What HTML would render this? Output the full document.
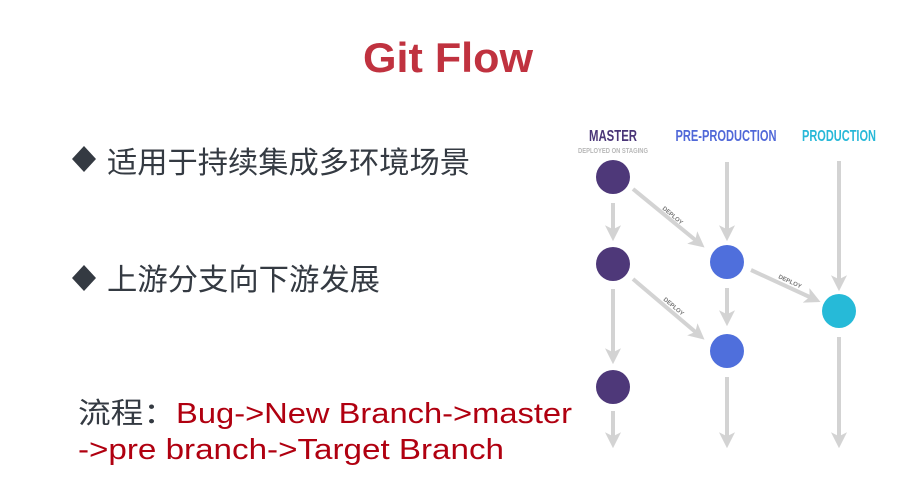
<!DOCTYPE html>
<html><head><meta charset="utf-8"><style>
html,body{margin:0;padding:0;background:#fff;width:921px;height:496px;overflow:hidden}
svg{display:block}
</style></head><body>
<svg width="921" height="496" viewBox="0 0 921 496" xmlns="http://www.w3.org/2000/svg">
<defs>
<marker id="ah" markerWidth="4" markerHeight="4" refX="2.2" refY="2" orient="auto" markerUnits="strokeWidth">
<path d="M0,0 L4,2 L0,4 L1,2 Z" fill="#d3d3d3"/>
</marker>
</defs>
<text x="448" y="72" text-anchor="middle" font-family="Liberation Sans, sans-serif" font-weight="bold" font-size="42" fill="#c0323f" textLength="170" lengthAdjust="spacingAndGlyphs">Git Flow</text>

<path d="M84,146 L96,159 L84,172 L72,159 Z" fill="#343a42"/>
<text x="107" y="173" font-family="Liberation Sans, Noto Sans CJK SC, sans-serif" font-size="30" fill="#343a42" textLength="363" lengthAdjust="spacingAndGlyphs">适用于持续集成多环境场景</text>
<path d="M84,265 L96,278 L84,291 L72,278 Z" fill="#343a42"/>
<text x="107" y="290" font-family="Liberation Sans, Noto Sans CJK SC, sans-serif" font-size="30" fill="#343a42" textLength="273" lengthAdjust="spacingAndGlyphs">上游分支向下游发展</text>

<text x="78" y="423" font-family="Liberation Sans, Noto Sans CJK SC, sans-serif" font-size="29" textLength="494" lengthAdjust="spacingAndGlyphs"><tspan fill="#343a42">流程：</tspan><tspan fill="#b00010">Bug-&gt;New Branch-&gt;master</tspan></text>
<text x="78" y="459" font-family="Liberation Sans, Noto Sans CJK SC, sans-serif" font-size="29" fill="#b00010" textLength="426" lengthAdjust="spacingAndGlyphs">-&gt;pre branch-&gt;Target Branch</text>

<g font-family="Liberation Sans, sans-serif" font-weight="bold" text-anchor="middle">
<text x="613" y="141" font-size="16" fill="#4a3578" textLength="48" lengthAdjust="spacingAndGlyphs">MASTER</text>
<text x="613" y="153" font-size="7" fill="#b8b8b8" textLength="70" lengthAdjust="spacingAndGlyphs">DEPLOYED ON STAGING</text>
<text x="726" y="141" font-size="16" fill="#5068d8" textLength="101" lengthAdjust="spacingAndGlyphs">PRE-PRODUCTION</text>
<text x="839" y="141" font-size="16" fill="#27b8d8" textLength="74" lengthAdjust="spacingAndGlyphs">PRODUCTION</text>
</g>

<g stroke="#d3d3d3" stroke-width="4" fill="none" marker-end="url(#ah)">
<line x1="613" y1="203" x2="613" y2="234"/>
<line x1="613" y1="289" x2="613" y2="357"/>
<line x1="613" y1="411" x2="613" y2="441"/>
<line x1="727" y1="162" x2="727" y2="234"/>
<line x1="727" y1="288" x2="727" y2="319"/>
<line x1="727" y1="377" x2="727" y2="441"/>
<line x1="839" y1="161" x2="839" y2="284"/>
<line x1="839" y1="337" x2="839" y2="441"/>
<line x1="633" y1="189" x2="699" y2="243"/>
<line x1="633" y1="279" x2="699" y2="335"/>
<line x1="751" y1="270" x2="814" y2="299"/>
</g>

<g font-family="Liberation Sans, sans-serif" font-weight="bold" font-size="6" fill="#777">
<text x="662" y="209" transform="rotate(40 662 209)">DEPLOY</text>
<text x="663" y="300" transform="rotate(40 663 300)">DEPLOY</text>
<text x="778" y="278" transform="rotate(25 778 278)">DEPLOY</text>
</g>

<circle cx="613" cy="177" r="17" fill="#4e3879"/>
<circle cx="613" cy="264" r="17" fill="#4e3879"/>
<circle cx="613" cy="387" r="17" fill="#4e3879"/>
<circle cx="727" cy="262" r="17" fill="#4f6fdc"/>
<circle cx="727" cy="351" r="17" fill="#4f6fdc"/>
<circle cx="839" cy="311" r="17" fill="#26bad8"/>
</svg>
</body></html>
